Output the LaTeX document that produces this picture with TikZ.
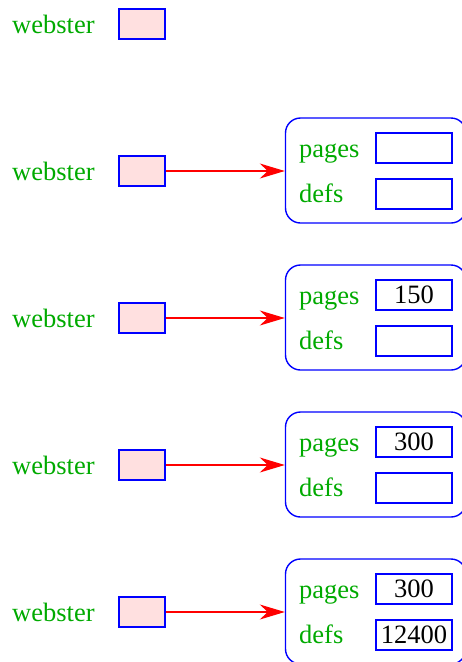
\documentclass[tikz,border=0pt]{standalone}
\usepackage{fontspec}
\setmainfont{Liberation Serif}
\usetikzlibrary{arrows.meta}
\definecolor{lblgreen}{RGB}{0,170,0}
\definecolor{ptrfill}{RGB}{255,224,224}
\begin{document}
\begin{tikzpicture}[x=1pt,y=-1pt,
  font=\fontsize{26.5pt}{30pt}\selectfont,
  lbl/.style={text=lblgreen, anchor=base west, inner sep=0pt},
  ptr/.style={draw=blue, fill=ptrfill, line width=1.3pt, minimum width=46pt, minimum height=30pt, inner sep=0pt},
  fld/.style={draw=blue, line width=1.3pt, minimum width=76pt, minimum height=30pt, inner sep=0pt, text=black},
  rec/.style={draw=blue, line width=1.4pt, rounded corners=15pt, minimum width=180.5pt, minimum height=105pt, inner sep=0pt},
  link/.style={draw=red, line width=1.2pt, -{Stealth[length=25pt,width=15pt,inset=8pt]}}
]
\useasboundingbox (0,0) rectangle (462,662);
\clip (0,0) rectangle (462,662);
\node[lbl] (w0) at (12,33) {webster};
\node[ptr] (p0) at (142,24) {};
\foreach \k/\a/\b in {1/{}/{},2/150/{},3/300/{},4/300/12400}{
  \pgfmathsetmacro{\dy}{147*(\k-1)}
  \node[lbl] (w\k) at (12,180+\dy) {webster};
  \node[ptr] (p\k) at (142,171+\dy) {};
  \node[rec] (s\k) at (375.75,170.5+\dy) {};
  \node[lbl] (pg\k) at (299,157+\dy) {pages};
  \node[lbl] (df\k) at (299,202+\dy) {defs};
  \node[fld] (fa\k) at (414,148+\dy) {\a};
  \node[fld] (fb\k) at (414,194+\dy) {\b};
  \draw[link] (p\k.east) -- (p\k.east -| s\k.west);
}
\end{tikzpicture}
\end{document}
